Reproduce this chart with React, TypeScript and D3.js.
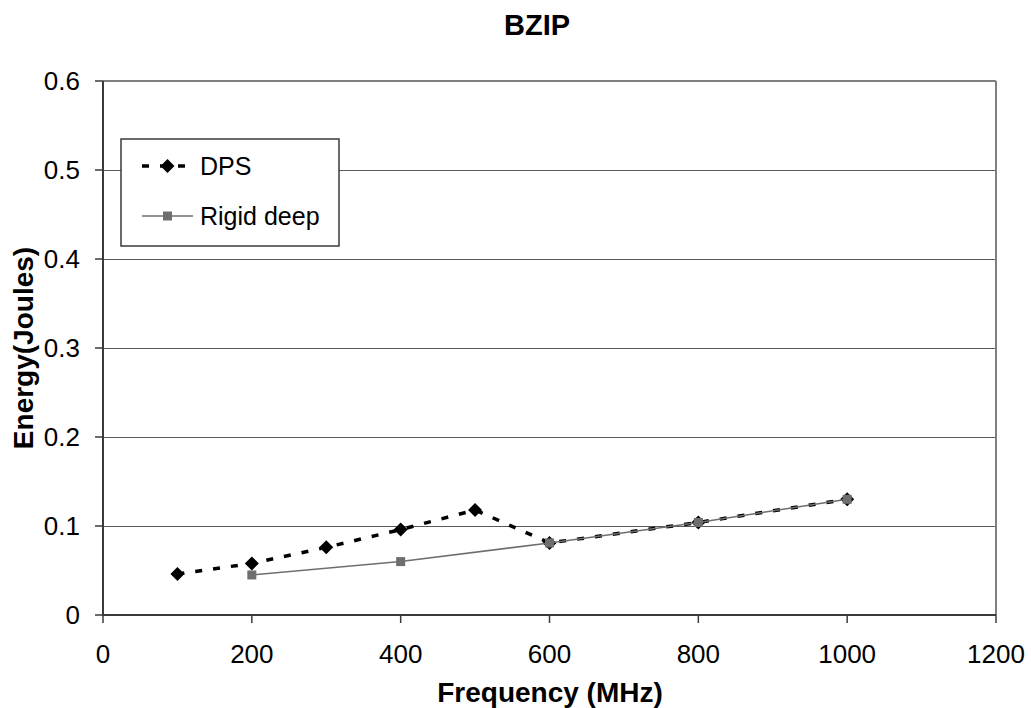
import React from "react";
import * as d3 from "d3";

const dpsFreq = [100, 200, 300, 400, 500, 600, 800, 1000];
const dpsEnergy = [0.046, 0.058, 0.076, 0.096, 0.118, 0.081, 0.104, 0.130];
const rigidFreq = [200, 400, 600, 800, 1000];
const rigidEnergy = [0.045, 0.060, 0.081, 0.104, 0.130];
const xTicks = [0, 200, 400, 600, 800, 1000, 1200];
const yTicks = [0, 0.1, 0.2, 0.3, 0.4, 0.5, 0.6];

const W = 1031;
const H = 708;
const FONT = "'Liberation Sans', Arial, Helvetica, sans-serif";

export default function App() {
  const x = d3.scaleLinear().domain([0, 1200]).range([103, 996]);
  const y = d3.scaleLinear().domain([0, 0.6]).range([615, 81]);

  const dps = dpsFreq.map((f, i) => [f, dpsEnergy[i]] as [number, number]);
  const rigid = rigidFreq.map((f, i) => [f, rigidEnergy[i]] as [number, number]);
  const line = d3
    .line<[number, number]>()
    .x((d) => x(d[0]))
    .y((d) => y(d[1]));

  const diamond = (cx: number, cy: number, r: number) =>
    `M${cx},${cy - r}L${cx + r},${cy}L${cx},${cy + r}L${cx - r},${cy}Z`;

  return (
    <svg
      width={W}
      height={H}
      style={{ position: "absolute", left: 0, top: 0, background: "#fff" }}
      fontFamily={FONT}
    >
      <rect x={0} y={0} width={W} height={H} fill="#fff" />
      {/* gridlines */}
      {yTicks.slice(1).map((t) => (
        <line key={"g" + t} x1={x(0)} x2={x(1200)} y1={Math.round(y(t)) + 0.5} y2={Math.round(y(t)) + 0.5} stroke="#5a5a5a" strokeWidth={1} />
      ))}
      {/* top & right border */}
      <line x1={x(0)} x2={x(1200)} y1={y(0.6)} y2={y(0.6)} stroke="#808080" strokeWidth={2} />
      <line x1={x(1200)} x2={x(1200)} y1={y(0.6)} y2={y(0)} stroke="#808080" strokeWidth={2} />
      {/* axes */}
      <line x1={x(0)} x2={x(0)} y1={y(0.6)} y2={y(0) + 1} stroke="#3a3a3a" strokeWidth={2} />
      <line x1={x(0) - 1} x2={x(1200)} y1={y(0)} y2={y(0)} stroke="#3a3a3a" strokeWidth={2} />
      {yTicks.map((t) => (
        <g key={"yt" + t}>
          <line x1={x(0) - 8} x2={x(0)} y1={y(t)} y2={y(t)} stroke="#3a3a3a" strokeWidth={1.5} />
          <text x={80} y={y(t)} dy="0.36em" textAnchor="end" fontSize={26} fill="#000">
            {d3.format("")(t)}
          </text>
        </g>
      ))}
      {xTicks.map((t) => (
        <g key={"xt" + t}>
          <line x1={x(t)} x2={x(t)} y1={y(0)} y2={y(0) + 8} stroke="#3a3a3a" strokeWidth={1.5} />
          <text x={x(t)} y={663} textAnchor="middle" fontSize={26} fill="#000">
            {t}
          </text>
        </g>
      ))}
      {/* series: DPS */}
      <path d={line(dps) || ""} fill="none" stroke="#000" strokeWidth={3.5} strokeDasharray="7 11" />
      {dps.map((d, i) => (
        <path key={"dm" + i} d={diamond(x(d[0]), y(d[1]), 7)} fill="#000" />
      ))}
      {/* series: Rigid deep */}
      <path d={line(rigid) || ""} fill="none" stroke="#6e6e6e" strokeWidth={1.5} />
      {rigid.map((d, i) => (
        <rect key={"rm" + i} x={x(d[0]) - 4.5} y={y(d[1]) - 4.5} width={9} height={9} fill="#6e6e6e" />
      ))}
      {/* legend */}
      <rect x={121} y={139} width={218} height={107} fill="#fff" stroke="#3a3a3a" strokeWidth={1.5} />
      <line x1={142} x2={193} y1={166} y2={166} stroke="#000" strokeWidth={3.5} strokeDasharray="7 11" />
      <path d={diamond(167.5, 166, 7)} fill="#000" />
      <text x={200} y={175} fontSize={25} fill="#000">DPS</text>
      <line x1={142} x2={193} y1={216} y2={216} stroke="#6e6e6e" strokeWidth={1.5} />
      <rect x={163} y={211.5} width={9} height={9} fill="#6e6e6e" />
      <text x={200} y={225} fontSize={25} fill="#000">Rigid deep</text>
      {/* titles */}
      <text x={537} y={35} textAnchor="middle" fontSize={29} fontWeight="bold" fill="#000">BZIP</text>
      <text x={550} y={702} textAnchor="middle" fontSize={28} fontWeight="bold" fill="#000">Frequency (MHz)</text>
      <text
        transform={`translate(33, ${(y(0) + y(0.6)) / 2}) rotate(-90)`}
        textAnchor="middle"
        fontSize={28}
        fontWeight="bold"
        fill="#000"
      >
        Energy(Joules)
      </text>
    </svg>
  );
}
